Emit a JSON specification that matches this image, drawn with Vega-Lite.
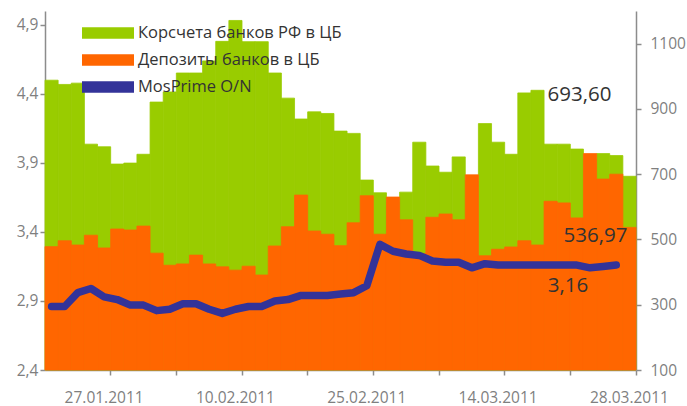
{
  "$schema": "https://vega.github.io/schema/vega-lite/v6.json",
  "width": 591,
  "height": 359,
  "autosize": "none",
  "padding": {"left": 45, "top": 11, "right": 51, "bottom": 36},
  "background": "white",
  "config": {
    "view": {"stroke": null},
    "font": "Open Sans",
    "axis": {
      "labelFont": "Open Sans",
      "labelFontSize": 15.5,
      "labelColor": "#7f7f7f",
      "domainColor": "#8c8c8c",
      "domainWidth": 1.5,
      "tickColor": "#8c8c8c",
      "tickWidth": 1.5,
      "grid": false,
      "title": null
    }
  },
  "data": {
    "values": [
      {"date": "21.01.2011", "korr": 988, "dep": 478, "mosprime": 2.86},
      {"date": "24.01.2011", "korr": 975, "dep": 496, "mosprime": 2.86},
      {"date": "25.01.2011", "korr": 979, "dep": 483, "mosprime": 2.96},
      {"date": "26.01.2011", "korr": 792, "dep": 513, "mosprime": 2.99},
      {"date": "27.01.2011", "korr": 784, "dep": 474, "mosprime": 2.93},
      {"date": "28.01.2011", "korr": 731, "dep": 532, "mosprime": 2.91},
      {"date": "31.01.2011", "korr": 734, "dep": 529, "mosprime": 2.87},
      {"date": "01.02.2011", "korr": 761, "dep": 541, "mosprime": 2.87},
      {"date": "02.02.2011", "korr": 921, "dep": 458, "mosprime": 2.83},
      {"date": "03.02.2011", "korr": 952, "dep": 421, "mosprime": 2.84},
      {"date": "04.02.2011", "korr": 1010, "dep": 425, "mosprime": 2.88},
      {"date": "07.02.2011", "korr": 1010, "dep": 452, "mosprime": 2.88},
      {"date": "08.02.2011", "korr": 1047, "dep": 425, "mosprime": 2.84},
      {"date": "09.02.2011", "korr": 1107, "dep": 416, "mosprime": 2.81},
      {"date": "10.02.2011", "korr": 1171, "dep": 406, "mosprime": 2.84},
      {"date": "11.02.2011", "korr": 1106, "dep": 418, "mosprime": 2.86},
      {"date": "14.02.2011", "korr": 1106, "dep": 391, "mosprime": 2.86},
      {"date": "15.02.2011", "korr": 1010, "dep": 480, "mosprime": 2.90},
      {"date": "16.02.2011", "korr": 933, "dep": 539, "mosprime": 2.91},
      {"date": "17.02.2011", "korr": 869, "dep": 636, "mosprime": 2.94},
      {"date": "18.02.2011", "korr": 891, "dep": 526, "mosprime": 2.94},
      {"date": "21.02.2011", "korr": 886, "dep": 516, "mosprime": 2.94},
      {"date": "22.02.2011", "korr": 832, "dep": 481, "mosprime": 2.95},
      {"date": "24.02.2011", "korr": 825, "dep": 551, "mosprime": 2.96},
      {"date": "25.02.2011", "korr": 682, "dep": 634, "mosprime": 3.01},
      {"date": "28.02.2011", "korr": 643, "dep": 516, "mosprime": 3.31},
      {"date": "01.03.2011", "korr": 615, "dep": 630, "mosprime": 3.26},
      {"date": "02.03.2011", "korr": 645, "dep": 560, "mosprime": 3.24},
      {"date": "03.03.2011", "korr": 798, "dep": 457, "mosprime": 3.23},
      {"date": "04.03.2011", "korr": 725, "dep": 568, "mosprime": 3.19},
      {"date": "05.03.2011", "korr": 706, "dep": 578, "mosprime": 3.18},
      {"date": "09.03.2011", "korr": 753, "dep": 560, "mosprime": 3.18},
      {"date": "10.03.2011", "korr": 680, "dep": 698, "mosprime": 3.14},
      {"date": "11.03.2011", "korr": 855, "dep": 450, "mosprime": 3.17},
      {"date": "14.03.2011", "korr": 798, "dep": 470, "mosprime": 3.16},
      {"date": "15.03.2011", "korr": 761, "dep": 477, "mosprime": 3.16},
      {"date": "16.03.2011", "korr": 949, "dep": 496, "mosprime": 3.16},
      {"date": "17.03.2011", "korr": 957, "dep": 483, "mosprime": 3.16},
      {"date": "18.03.2011", "korr": 792, "dep": 617, "mosprime": 3.16},
      {"date": "21.03.2011", "korr": 792, "dep": 612, "mosprime": 3.16},
      {"date": "22.03.2011", "korr": 777, "dep": 566, "mosprime": 3.16},
      {"date": "23.03.2011", "korr": 745, "dep": 763, "mosprime": 3.14},
      {"date": "24.03.2011", "korr": 763, "dep": 685, "mosprime": 3.15},
      {"date": "25.03.2011", "korr": 757, "dep": 700, "mosprime": 3.16},
      {"date": "28.03.2011", "korr": 693.60, "dep": 536.97, "mosprime": null}
    ]
  },
  "encoding": {
    "x": {
      "field": "date",
      "type": "ordinal",
      "sort": null,
      "scale": {"paddingInner": 0, "paddingOuter": 0},
      "axis": {
        "orient": "bottom",
        "values": ["27.01.2011", "03.02.2011", "10.02.2011", "17.02.2011", "25.02.2011", "04.03.2011", "14.03.2011", "21.03.2011", "28.03.2011"],
        "bandPosition": 1,
        "labelExpr": "indexof(['27.01.2011','10.02.2011','25.02.2011','14.03.2011','28.03.2011'], datum.value) >= 0 ? datum.label : ''",
        "labelAngle": 0,
        "labelOverlap": false,
        "labelBound": false,
        "labelFlush": false,
        "tickSize": 5,
        "labelPadding": 15,
        "title": null
      }
    }
  },
  "layer": [
    {
      "layer": [
        {
          "mark": {"type": "bar", "stroke": "#99CC00", "strokeWidth": 0.8},
          "encoding": {
            "y": {"field": "korr", "type": "quantitative", "scale": {"domain": [100, 1200], "nice": false, "zero": false},
                  "axis": {"orient": "right", "values": [100, 300, 500, 700, 900, 1100], "format": "d", "tickSize": 5, "labelPadding": 9, "title": null}},
            "y2": {"datum": 100},
            "color": {
              "datum": "Корсчета банков РФ в ЦБ",
              "scale": {"domain": ["Корсчета банков РФ в ЦБ", "Депозиты банков в ЦБ", "MosPrime O/N"], "range": ["#99CC00", "#FF6600", "#333399"]},
              "legend": {
                "orient": "none",
                "legendX": 37,
                "legendY": 10,
                "title": null,
                "padding": 0,
                "clipHeight": 24,
                "rowPadding": 3,
                "symbolSize": 2704,
                "symbolType": "M-1,-0.22H1V0.22H-1Z",
                "symbolStrokeWidth": 0,
                "symbolOffset": 0,
                "labelFont": "Open Sans",
                "labelFontSize": 16.5,
                "labelColor": "#333333",
                "labelOffset": 4,
                "labelLimit": 400,
                "encode": {
                  "symbols": {
                    "update": {
                      "shape": {"signal": "datum.value === 'MosPrime O/N' ? 'M-0.99,-0.15H0.99A0.15,0.15 0 0 1 0.99,0.15H-0.99A0.15,0.15 0 0 1 -0.99,-0.15Z' : 'M-1,-0.22H1V0.22H-1Z'"},
                      "fill": {"scale": "color", "field": "value"},
                      "stroke": {"value": "transparent"},
                      "strokeWidth": {"value": 0},
                      "opacity": {"value": 1}
                    }
                  }
                }
              }
            }
          }
        },
        {
          "mark": {"type": "bar", "stroke": "#FF6600", "strokeWidth": 0.8},
          "encoding": {
            "y": {"field": "dep", "type": "quantitative", "scale": {"domain": [100, 1200], "nice": false, "zero": false},
                  "axis": {"orient": "right", "values": [100, 300, 500, 700, 900, 1100], "format": "d", "tickSize": 5, "labelPadding": 9, "title": null}},
            "y2": {"datum": 100},
            "color": {"datum": "Депозиты банков в ЦБ"}
          }
        },
        {
          "transform": [
            {"filter": "datum.date === '28.03.2011'"},
            {"calculate": "replace(format(datum.korr, '.2f'), '.', ',')", "as": "korrLabel"}
          ],
          "mark": {"type": "text", "align": "right", "baseline": "alphabetic", "dx": -18, "dy": -75, "font": "Open Sans", "fontSize": 20.5, "color": "#333333"},
          "encoding": {
            "y": {"field": "korr", "type": "quantitative", "scale": {"domain": [100, 1200], "nice": false, "zero": false},
                  "axis": {"orient": "right", "values": [100, 300, 500, 700, 900, 1100], "format": "d", "tickSize": 5, "labelPadding": 9, "title": null}},
            "text": {"field": "korrLabel"}
          }
        },
        {
          "transform": [
            {"filter": "datum.date === '28.03.2011'"},
            {"calculate": "replace(format(datum.dep, '.2f'), '.', ',')", "as": "depLabel"}
          ],
          "mark": {"type": "text", "align": "right", "baseline": "alphabetic", "dx": -2, "dy": 15, "font": "Open Sans", "fontSize": 20.5, "color": "#333333"},
          "encoding": {
            "y": {"field": "dep", "type": "quantitative", "scale": {"domain": [100, 1200], "nice": false, "zero": false},
                  "axis": {"orient": "right", "values": [100, 300, 500, 700, 900, 1100], "format": "d", "tickSize": 5, "labelPadding": 9, "title": null}},
            "text": {"field": "depLabel"}
          }
        }
      ]
    },
    {
      "layer": [
        {
          "mark": {"type": "line", "strokeWidth": 7.5, "strokeCap": "round", "strokeJoin": "round"},
          "encoding": {
            "y": {"field": "mosprime", "type": "quantitative", "scale": {"domain": [2.4, 5.0], "nice": false, "zero": false},
                  "axis": {"orient": "left", "values": [2.4, 2.9, 3.4, 3.9, 4.4, 4.9], "labelExpr": "replace(format(datum.value, '.1f'), '.', ',')", "tickSize": 5, "labelPadding": 2, "title": null}},
            "color": {"datum": "MosPrime O/N"}
          }
        },
        {
          "transform": [
            {"filter": "datum.date === '25.03.2011'"},
            {"calculate": "replace(format(datum.mosprime, '.2f'), '.', ',')", "as": "mosLabel"}
          ],
          "mark": {"type": "text", "align": "right", "baseline": "alphabetic", "dx": -28, "dy": 27, "font": "Open Sans", "fontSize": 20.5, "color": "#333333"},
          "encoding": {
            "y": {"field": "mosprime", "type": "quantitative", "scale": {"domain": [2.4, 5.0], "nice": false, "zero": false},
                  "axis": {"orient": "left", "values": [2.4, 2.9, 3.4, 3.9, 4.4, 4.9], "labelExpr": "replace(format(datum.value, '.1f'), '.', ',')", "tickSize": 5, "labelPadding": 2, "title": null}},
            "text": {"field": "mosLabel"}
          }
        }
      ]
    }
  ],
  "resolve": {"scale": {"y": "independent"}, "axis": {"y": "independent"}}
}
